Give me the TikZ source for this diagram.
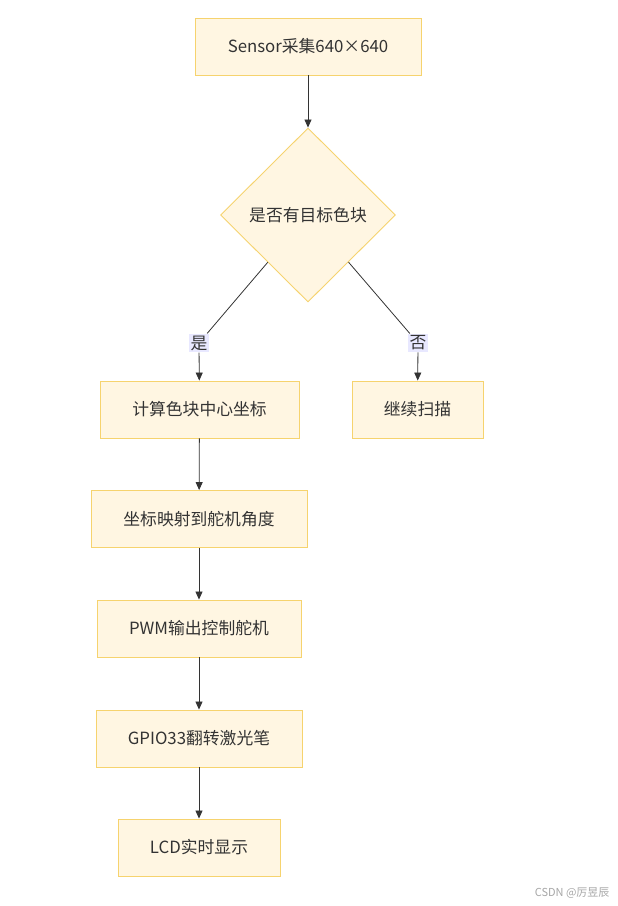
\documentclass[tikz,border=0pt]{standalone}
\usepackage{fontspec}
\setmainfont{Noto Sans CJK SC}
\usetikzlibrary{shapes.geometric}
\usetikzlibrary{positioning}
\usetikzlibrary{arrows.meta}

\definecolor{boxfill}{HTML}{FFF6E2}
\definecolor{boxline}{HTML}{F6D36E}
\definecolor{labelbg}{HTML}{E8E8FF}
\definecolor{ink}{HTML}{333333}

\tikzset{
    stepbox/.style={draw=boxline, fill=boxfill, line width=0.9pt, minimum height=57pt,
        text=ink, font=\fontsize{16.8}{19}\selectfont},
    choice/.style={diamond, draw=boxline, fill=boxfill, line width=0.9pt, inner sep=0pt,
        minimum width=175pt, minimum height=174pt, text=ink, font=\fontsize{16.8}{19}\selectfont},
    edgelabel/.style={fill=labelbg, text=ink, inner sep=2pt, font=\fontsize{16.8}{19}\selectfont},
    flow/.style={draw=ink, line width=0.8pt, -{Triangle[length=8pt,width=7pt]}},
    plain/.style={draw=ink, line width=0.8pt}
}

\begin{document}
\begin{tikzpicture}[x=1pt,y=-1pt]
        \useasboundingbox (0,0) rectangle (618,906);

        \node[stepbox, minimum width=226pt] (sensor) at (308,46.5) {Sensor采集640×640};
        \node[choice] (check) at (308,215) {是否有目标色块};

        \node[edgelabel] (yes) at (199,343) {是};
        \node[edgelabel] (no) at (418,343) {否};

        \node[stepbox, minimum width=199pt] (center) at (199.5,409.5) {计算色块中心坐标};
        \node[stepbox, minimum width=131pt] (scan) at (417.5,409.5) {继续扫描};
        \node[stepbox, minimum width=216pt] (angle) at (199,519) {坐标映射到舵机角度};
        \node[stepbox, minimum width=204pt] (pwm) at (199,628.5) {PWM输出控制舵机};
        \node[stepbox, minimum width=206pt] (laser) at (199,738.5) {GPIO33翻转激光笔};
        \node[stepbox, minimum width=162pt] (lcd) at (199,847.5) {LCD实时显示};

        \node[text=black!35, font=\fontsize{11}{13}\selectfont, anchor=east] (mark) at (613,893) {CSDN @厉昱辰};

        \draw [flow] (sensor) -- (check);
        \draw [plain] (check) -- (yes);
        \draw [flow] (yes) -- (center);
        \draw [plain] (check) -- (no);
        \draw [flow] (no) -- (scan);
        \draw [flow] (center) -- (angle);
        \draw [flow] (angle) -- (pwm);
        \draw [flow] (pwm) -- (laser);
        \draw [flow] (laser) -- (lcd);

    \end{tikzpicture}
\end{document}
